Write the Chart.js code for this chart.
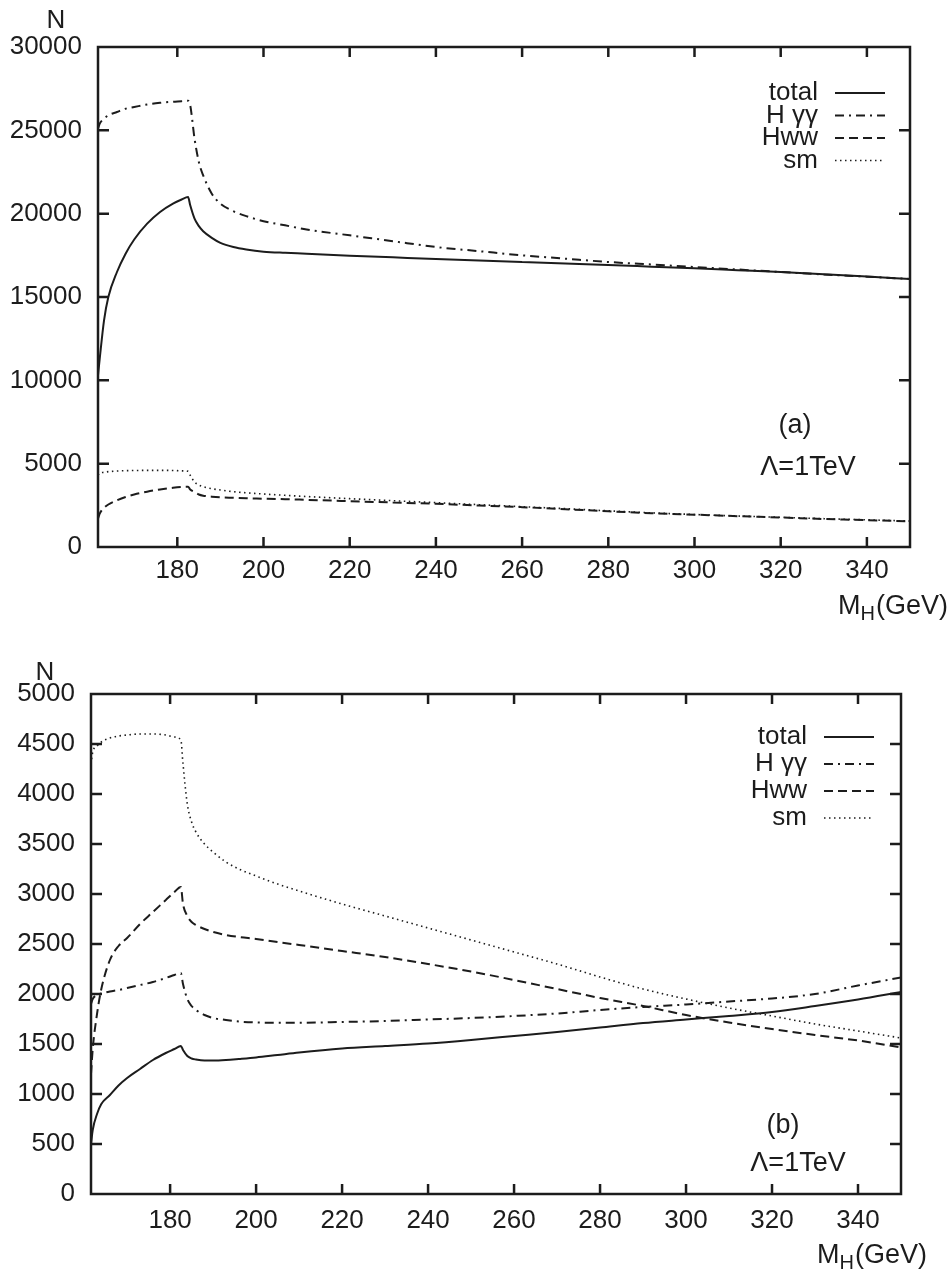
<!DOCTYPE html>
<html>
<head>
<meta charset="utf-8">
<script src="https://cdn.jsdelivr.net/npm/chart.js@4.4.1/dist/chart.umd.min.js"></script>
<style>
html, body { margin: 0; padding: 0; background: #fff; }
#chartA { position: absolute; left: 0; top: 0; }
#chartB { position: absolute; left: 0; top: 620px; }
</style>
</head>
<body>
<canvas id="chartA" width="949" height="620"></canvas>
<canvas id="chartB" width="949" height="650"></canvas>
<script>
// M_H sample points (GeV), shared by every curve
var massGeV = [161.6, 162, 163, 164, 166, 168, 170, 173, 176, 179, 181, 182.5, 183, 184, 185, 186, 188, 190, 193, 196, 200, 205, 210, 220, 230, 240, 250, 260, 270, 280, 290, 300, 310, 320, 330, 340, 350];

// panel (a)
var totalA = [10300, 11300, 13600, 15000, 16500, 17600, 18450, 19400, 20100, 20600, 20850, 21000, 20500, 19700, 19250, 18950, 18550, 18250, 18000, 17850, 17720, 17650, 17600, 17480, 17380, 17280, 17190, 17100, 17010, 16920, 16820, 16720, 16610, 16500, 16370, 16230, 16080];
var hggA   = [25100, 25400, 25700, 25900, 26100, 26300, 26400, 26550, 26650, 26720, 26750, 26780, 26500, 24500, 23100, 22300, 21200, 20600, 20150, 19850, 19550, 19300, 19050, 18700, 18350, 18000, 17750, 17500, 17300, 17100, 16950, 16800, 16650, 16500, 16350, 16220, 16080];
var hwwA   = [1700, 2000, 2350, 2550, 2800, 3000, 3150, 3320, 3450, 3550, 3600, 3620, 3450, 3300, 3150, 3080, 3020, 2980, 2950, 2920, 2900, 2870, 2830, 2750, 2670, 2590, 2490, 2390, 2270, 2140, 2030, 1940, 1850, 1770, 1680, 1610, 1540];

// standard model curve, same in both panels
var smN    = [4300, 4420, 4480, 4520, 4560, 4580, 4590, 4600, 4600, 4590, 4570, 4540, 4300, 3900, 3720, 3620, 3500, 3420, 3320, 3250, 3180, 3100, 3030, 2900, 2780, 2660, 2540, 2420, 2300, 2170, 2050, 1950, 1860, 1780, 1700, 1630, 1560];

// panel (b)
var totalB = [500, 640, 800, 900, 990, 1085, 1160, 1250, 1340, 1410, 1450, 1480, 1440, 1380, 1355, 1345, 1335, 1335, 1340, 1350, 1365, 1390, 1415, 1455, 1480, 1505, 1540, 1580, 1620, 1665, 1710, 1745, 1780, 1820, 1880, 1945, 2020];
var hggB   = [1900, 1950, 1990, 2005, 2025, 2040, 2060, 2090, 2120, 2160, 2190, 2210, 2100, 1950, 1880, 1840, 1790, 1760, 1740, 1725, 1715, 1712, 1712, 1720, 1730, 1745, 1760, 1780, 1805, 1840, 1870, 1895, 1925, 1955, 2000, 2085, 2165];
var hwwB   = [1200, 1450, 1800, 2050, 2340, 2480, 2560, 2700, 2820, 2940, 3020, 3070, 2900, 2780, 2720, 2690, 2650, 2620, 2590, 2570, 2550, 2520, 2490, 2430, 2370, 2300, 2225, 2140, 2050, 1960, 1880, 1790, 1715, 1650, 1590, 1535, 1465];

var seriesNames = ['total', 'H \u03b3\u03b3', 'Hww', 'sm'];
var xTicks  = [180, 200, 220, 240, 260, 280, 300, 320, 340];
var yTicksA = [0, 5000, 10000, 15000, 20000, 25000, 30000];
var yTicksB = [0, 500, 1000, 1500, 2000, 2500, 3000, 3500, 4000, 4500, 5000];

var ink = '#1c1c1c';
var fontFam = '"Liberation Sans", Arial, sans-serif';

function pts(ys) {
    return massGeV.map(function(m, i) { return {x: m, y: ys[i]}; });
}

function makeSets(tot, hgg, hww, sm) {
    var dashes = [[], [9, 5, 2, 5], [9, 5], [1.5, 3.5]];
    var widths = [2, 2, 2, 1.6];
    return [tot, hgg, hww, sm].map(function(d, i) {
        return {
            label: seriesNames[i],
            data: pts(d),
            borderColor: ink,
            borderWidth: widths[i],
            borderDash: dashes[i],
            pointRadius: 0,
            cubicInterpolationMode: 'monotone',
            fill: false
        };
    });
}

var frameAndText = {
    id: 'frameAndText',
    afterDraw: function(chart) {
        var o = chart.options.plugins.frameAndText;
        var ctx = chart.ctx, a = chart.chartArea;
        var xs = chart.scales.x, ys = chart.scales.y;
        ctx.save();
        ctx.setLineDash([]);
        ctx.strokeStyle = ink;
        ctx.lineWidth = 2.5;
        ctx.strokeRect(a.left, a.top, a.right - a.left, a.bottom - a.top);
        // inward tick marks on all four sides
        ctx.beginPath();
        xs.ticks.forEach(function(t) {
            if (t.value <= xs.min || t.value >= xs.max) return;
            var px = xs.getPixelForValue(t.value);
            ctx.moveTo(px, a.bottom); ctx.lineTo(px, a.bottom - 10);
            ctx.moveTo(px, a.top); ctx.lineTo(px, a.top + 10);
        });
        ys.ticks.forEach(function(t) {
            if (t.value <= ys.min || t.value >= ys.max) return;
            var py = ys.getPixelForValue(t.value);
            ctx.moveTo(a.left, py); ctx.lineTo(a.left + 11, py);
            ctx.moveTo(a.right, py); ctx.lineTo(a.right - 11, py);
        });
        ctx.stroke();

        ctx.fillStyle = ink;
        ctx.textBaseline = 'alphabetic';
        // N over the y axis
        ctx.font = '26px ' + fontFam;
        ctx.textAlign = 'center';
        ctx.fillText('N', o.nX, o.nY);
        // M_H(GeV) under the x axis
        ctx.textAlign = 'left';
        ctx.font = '27px ' + fontFam;
        var mx = o.mX;
        ctx.fillText('M', mx, o.mY);
        mx += ctx.measureText('M').width;
        ctx.font = '20px ' + fontFam;
        ctx.fillText('H', mx, o.mY + 6);
        mx += ctx.measureText('H').width + 1;
        ctx.font = '27px ' + fontFam;
        ctx.fillText('(GeV)', mx, o.mY);
        // panel tag and cutoff
        ctx.textAlign = 'center';
        ctx.font = '27px ' + fontFam;
        ctx.fillText(o.tag, o.tagX, o.tagY);
        ctx.fillText('\u039b=1TeV', o.lamX, o.lamY);
        // legend: right aligned text, line sample after it
        chart.data.datasets.forEach(function(ds, i) {
            var by = o.legY + i * o.legStep;
            ctx.font = '26px ' + fontFam;
            ctx.textAlign = 'right';
            ctx.fillText(ds.label, o.legX, by);
            ctx.beginPath();
            ctx.lineWidth = ds.borderWidth;
            ctx.setLineDash(ds.borderDash);
            ctx.moveTo(o.legX + 17, by - 7);
            ctx.lineTo(o.legX + 67, by - 7);
            ctx.stroke();
        });
        ctx.restore();
    }
};

function makeChart(id, sets, yMax, yTicks, box, labels) {
    return new Chart(document.getElementById(id).getContext('2d'), {
        type: 'line',
        data: { datasets: sets },
        plugins: [frameAndText],
        options: {
            responsive: false,
            animation: false,
            layout: { padding: { left: 0, top: box.top, right: box.right, bottom: 0 } },
            scales: {
                x: {
                    type: 'linear',
                    min: 161.6,
                    max: 350,
                    afterFit: function(s) { s.height = box.xh; },
                    afterBuildTicks: function(s) { s.ticks = xTicks.map(function(v) { return {value: v}; }); },
                    grid: { display: false, drawTicks: false },
                    border: { display: false },
                    ticks: { color: ink, font: { family: fontFam, size: 26 }, padding: box.xpad, maxRotation: 0,
                             callback: function(v) { return String(v); } }
                },
                y: {
                    min: 0,
                    max: yMax,
                    afterFit: function(s) { s.width = box.left; },
                    afterBuildTicks: function(s) { s.ticks = yTicks.map(function(v) { return {value: v}; }); },
                    grid: { display: false, drawTicks: false },
                    border: { display: false },
                    ticks: { color: ink, font: { family: fontFam, size: 26 }, padding: box.ypad,
                             callback: function(v) { return String(v); } }
                }
            },
            plugins: {
                legend: { display: false },
                tooltip: { enabled: false },
                frameAndText: labels
            }
        }
    });
}

var chartA = makeChart('chartA', makeSets(totalA, hggA, hwwA, smN), 30000, yTicksA,
    { top: 47, right: 39, left: 98, xh: 73, xpad: 8, ypad: 16 },
    { nX: 56, nY: 28, mX: 838, mY: 614, tag: '(a)', tagX: 795, tagY: 433, lamX: 808, lamY: 475,
      legX: 818, legY: 100, legStep: 22.5 });

var chartB = makeChart('chartB', makeSets(totalB, hggB, hwwB, smN), 5000, yTicksB,
    { top: 74, right: 48, left: 91, xh: 76, xpad: 11, ypad: 16 },
    { nX: 45, nY: 60, mX: 817, mY: 643, tag: '(b)', tagX: 783, tagY: 513, lamX: 798, lamY: 551,
      legX: 807, legY: 124, legStep: 27 });
</script>
</body>
</html>
